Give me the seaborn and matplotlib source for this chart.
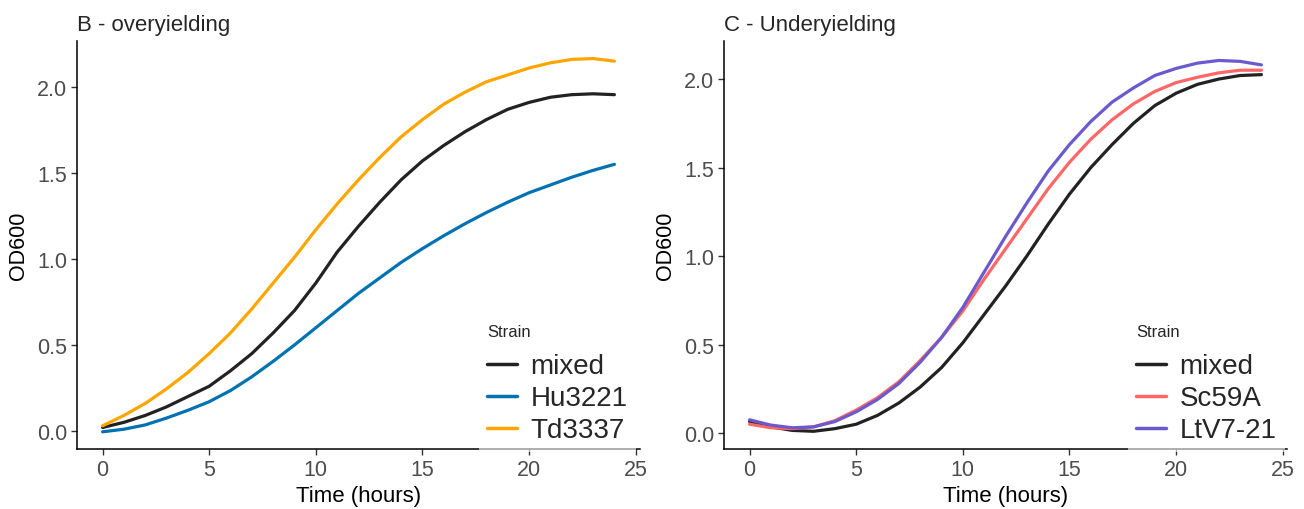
import pandas as pd
import matplotlib
matplotlib.use("Agg")
import matplotlib.pyplot as plt
import seaborn as sns

sns.set_style("ticks")
plt.rcParams['font.family'] = ['Liberation Sans', 'DejaVu Sans']

# time points (hours)
hours = list(range(25))

# panel B - overyielding
b_mixed = [0.02, 0.05, 0.09, 0.14, 0.20, 0.26, 0.35, 0.45, 0.57, 0.70, 0.86, 1.04, 1.19,
           1.33, 1.46, 1.57, 1.66, 1.74, 1.81, 1.87, 1.91, 1.94, 1.955, 1.96, 1.955]
b_hu3221 = [-0.005, 0.01, 0.035, 0.075, 0.12, 0.17, 0.235, 0.315, 0.405, 0.50, 0.60, 0.70, 0.80,
            0.89, 0.98, 1.06, 1.135, 1.205, 1.27, 1.33, 1.385, 1.43, 1.475, 1.515, 1.55]
b_td3337 = [0.03, 0.09, 0.16, 0.245, 0.34, 0.45, 0.57, 0.71, 0.86, 1.01, 1.17, 1.32, 1.46,
            1.59, 1.71, 1.81, 1.90, 1.97, 2.03, 2.07, 2.11, 2.14, 2.16, 2.165, 2.15]

# panel C - underyielding
c_mixed = [0.065, 0.035, 0.015, 0.01, 0.025, 0.05, 0.10, 0.17, 0.26, 0.37, 0.51, 0.67, 0.83,
           1.00, 1.18, 1.35, 1.50, 1.63, 1.75, 1.85, 1.92, 1.97, 2.00, 2.02, 2.025]
c_sc59a = [0.05, 0.03, 0.025, 0.035, 0.07, 0.13, 0.20, 0.29, 0.41, 0.54, 0.69, 0.87, 1.04,
           1.21, 1.38, 1.53, 1.66, 1.77, 1.86, 1.93, 1.98, 2.01, 2.035, 2.05, 2.05]
c_ltv = [0.075, 0.045, 0.03, 0.035, 0.065, 0.12, 0.19, 0.28, 0.40, 0.54, 0.71, 0.91, 1.11,
         1.30, 1.48, 1.63, 1.76, 1.87, 1.95, 2.02, 2.06, 2.09, 2.105, 2.10, 2.08]

def long_df(series):
    frames = []
    for name, vals in series.items():
        frames.append(pd.DataFrame({'Time': hours, 'OD600': vals, 'Strain': name}))
    return pd.concat(frames, ignore_index=True)

df_b = long_df({'mixed': b_mixed, 'Hu3221': b_hu3221, 'Td3337': b_td3337})
df_c = long_df({'mixed': c_mixed, 'Sc59A': c_sc59a, 'LtV7-21': c_ltv})

pal_b = {'mixed': '#222222', 'Hu3221': '#0072B2', 'Td3337': '#FFA500'}
pal_c = {'mixed': '#222222', 'Sc59A': '#FF6666', 'LtV7-21': '#6A5ACD'}

fig = plt.figure(figsize=(13.04, 5.10), dpi=100)
ax1 = fig.add_axes([77 / 1304, 60 / 510, 563 / 1304, 408 / 510])
ax2 = fig.add_axes([724 / 1304, 60 / 510, 563 / 1304, 408 / 510])

panels = [
    (ax1, df_b, pal_b, 'B - overyielding', (-0.105, 2.267), 479 / 1304),
    (ax2, df_c, pal_c, 'C - Underyielding', (-0.09, 2.215), 1128 / 1304),
]

for ax, d, pal, title, ylim, leg_x in panels:
    sns.lineplot(data=d, x='Time', y='OD600', hue='Strain', palette=pal,
                 linewidth=2.3, ax=ax)
    ax.set_xlim(-1.2, 25.2)
    ax.set_ylim(*ylim)
    ax.set_xticks([0, 5, 10, 15, 20, 25])
    ax.set_yticks([0.0, 0.5, 1.0, 1.5, 2.0])
    ax.set_yticklabels(['0.0', '0.5', '1.0', '1.5', '2.0'])
    ax.set_xlabel('Time (hours)', fontsize=16, color='black', labelpad=4)
    ax.set_ylabel('OD600', fontsize=15.5, color='black', labelpad=6)
    ax.set_title(title, loc='left', fontsize=16, pad=8)
    sns.despine(ax=ax)
    for s in ['left', 'bottom']:
        ax.spines[s].set_linewidth(1.1)
        ax.spines[s].set_color('black')
    ax.tick_params(axis='both', labelsize=15.5, labelcolor='#4D4D4D', color='#333333',
                   length=4, width=1.0, pad=3)

    leg = ax.legend(title='Strain', fontsize=20, title_fontsize=12,
                    loc='upper left', bbox_to_anchor=(leg_x, 193 / 510),
                    bbox_transform=fig.transFigure, frameon=True,
                    framealpha=0.6, edgecolor='none', fancybox=False,
                    handlelength=1.05, handletextpad=0.5, labelspacing=0.22,
                    borderpad=0.3, borderaxespad=0)
    leg._legend_box.align = 'left'
    leg._legend_box.sep = 10
    for line in leg.get_lines():
        line.set_linewidth(2.5)

fig.savefig('out.png', dpi=100)
